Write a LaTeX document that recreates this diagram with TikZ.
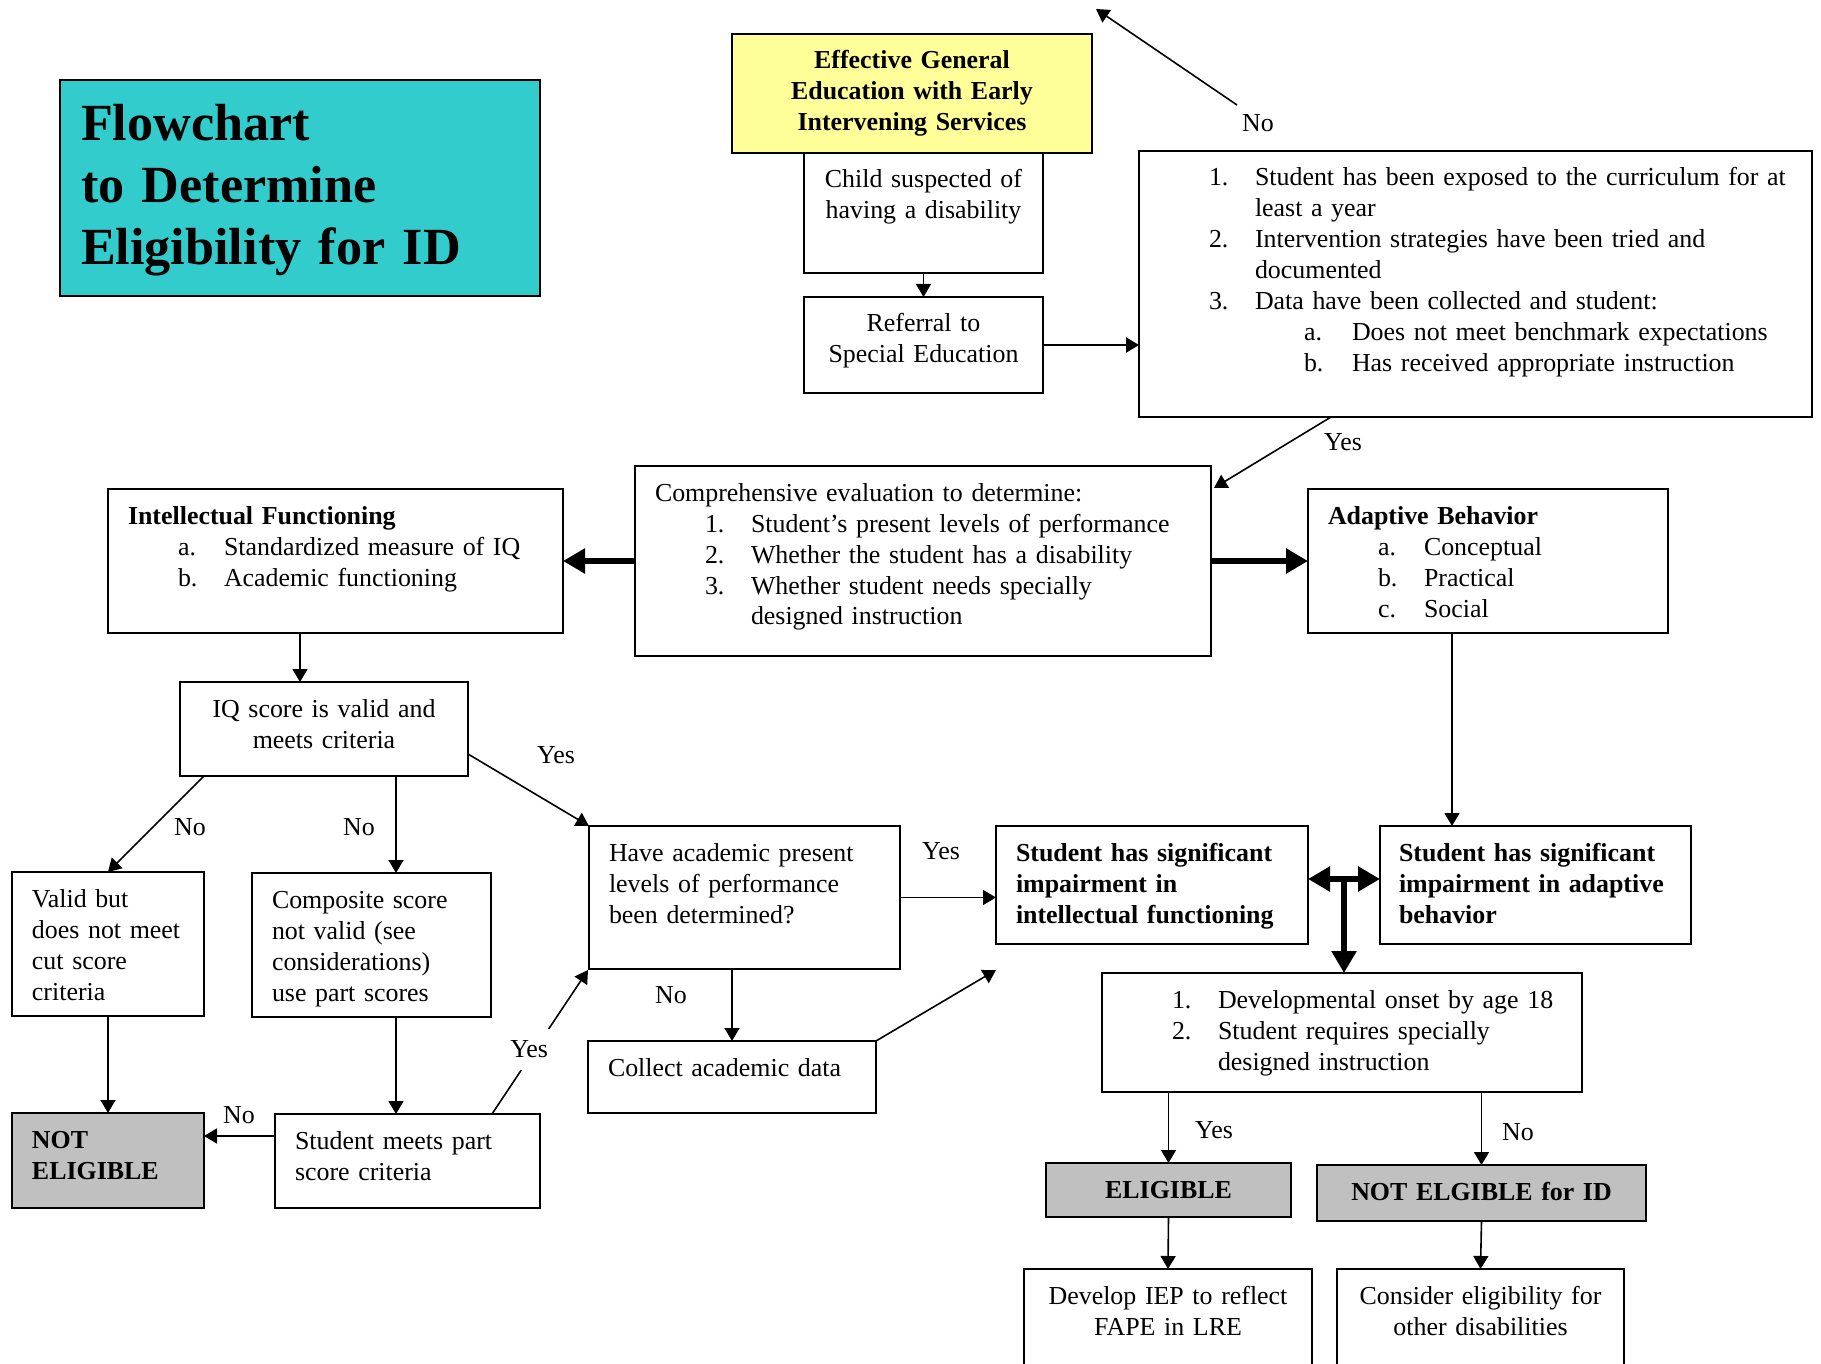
\documentclass[tikz,border=0pt]{standalone}
\usepackage{fontspec}
\setmainfont{Liberation Serif}
\usetikzlibrary{arrows.meta,positioning,calc}
\definecolor{titlecyan}{HTML}{33CCCC}
\definecolor{effyellow}{HTML}{FFFF99}
\definecolor{notegray}{HTML}{C0C0C0}
\newcommand{\body}{\fontsize{12.95}{15.5}\selectfont}
\newcommand{\titlefont}{\fontsize{26.1}{30.8}\selectfont\bfseries}
\newcommand{\itm}[2]{\hspace*{25pt}\makebox[23pt][l]{#1}\mbox{#2}}
\newcommand{\cont}[1]{\hspace*{48pt}\mbox{#1}}
\newcommand{\subitm}[2]{\hspace*{72.5pt}\makebox[24pt][l]{#1}\mbox{#2}}

\begin{document}
\begin{tikzpicture}[x=0.5pt,y=-0.5pt,
    box/.style 2 args={draw, line width=0.8pt, fill=white, anchor=north west,
      inner xsep=10pt, inner ysep=0pt, outer sep=0pt, align=left, font=\body,
      text height=17.5pt, text width=#1, text depth=#2},
    cbox/.style 2 args={box={#1}{#2}, inner xsep=4pt, align=center},
    tag/.style={font=\body, inner sep=1pt},
    arr/.style={-{Triangle[length=6.5pt,width=7.5pt]}, line width=0.8pt},
    fat/.style={-{Triangle[length=11pt,width=12pt]}, line width=3.3pt},
  ]
  \useasboundingbox (0,0) rectangle (1821,1364);
  \clip (0,0) rectangle (1821,1364);
  \fill[white] (0,0) rectangle (1821,1364);

  % title
  \node[box={219pt}{77.5pt}, fill=titlecyan, inner xsep=10.5pt, text height=30.5pt,
    font=\titlefont] (title) at (60,80) {Flowchart\\to Determine\\Eligibility for ID};

  % referral path
  \node[cbox={172pt}{42pt}, fill=effyellow, font=\body\bfseries] (eff) at (732,34)
    {Effective General\\Education with Early\\Intervening Services};
  \node[cbox={111.5pt}{42.5pt}] (child) at (804,153) {Child suspected of\\having a disability};
  \node[cbox={111.5pt}{30.5pt}] (ref) at (804,297) {Referral to\\Special Education};
  \node[box={316.5pt}{115.5pt}] (crit) at (1139,151) {%
    \itm{1.}{Student has been exposed to the curriculum for at}\\
    \cont{least a year}\\
    \itm{2.}{Intervention strategies have been tried and}\\
    \cont{documented}\\
    \itm{3.}{Data have been collected and student:}\\
    \subitm{a.}{Does not meet benchmark expectations}\\
    \subitm{b.}{Has received appropriate instruction}};

  % evaluation
  \node[box={268pt}{77.5pt}] (comp) at (635,466) {%
    Comprehensive evaluation to determine:\\
    \itm{1.}{Student’s present levels of performance}\\
    \itm{2.}{Whether the student has a disability}\\
    \itm{3.}{Whether student needs specially}\\
    \cont{designed instruction}};
  \node[box={207.5pt}{54.5pt}] (intel) at (108,489) {%
    \textbf{Intellectual Functioning}\\
    \itm{a.}{Standardized measure of IQ}\\
    \itm{b.}{Academic functioning}};
  \node[box={160pt}{54.5pt}] (adapt) at (1308,489) {%
    \textbf{Adaptive Behavior}\\
    \itm{a.}{Conceptual}\\
    \itm{b.}{Practical}\\
    \itm{c.}{Social}};

  % intellectual branch
  \node[cbox={136pt}{29.5pt}] (iq) at (180,682) {IQ score is valid and\\meets criteria};
  \node[box={76pt}{54.5pt}] (valid) at (12,872) {Valid but\\\mbox{does not meet}\\cut score\\criteria};
  \node[box={99.5pt}{54.5pt}] (compo) at (252,873) {Composite score\\not valid (see\\considerations)\\use part scores};
  \node[box={135.5pt}{54pt}] (have) at (589,826) {Have academic present\\levels of performance\\been determined?};
  \node[box={76pt}{30pt}, fill=notegray, font=\body\bfseries] (notel) at (12,1113) {NOT\\ELIGIBLE};
  \node[box={112.5pt}{29.5pt}] (meets) at (275,1114) {Student meets part\\score criteria};
  \node[box={124pt}{18.5pt}] (collect) at (588,1041) {Collect academic data};

  % decision
  \node[box={136pt}{41.5pt}, font=\body\bfseries] (sigi) at (996,826)
    {Student has significant\\impairment in\\intellectual functioning};
  \node[box={136.5pt}{41.5pt}, inner xsep=9.5pt, font=\body\bfseries] (siga) at (1380,826)
    {Student has significant\\impairment in adaptive\\behavior};
  \node[box={220pt}{42pt}] (dev) at (1102,973) {%
    \itm{1.}{Developmental onset by age 18}\\
    \itm{2.}{Student requires specially}\\
    \cont{designed instruction}};
  \node[cbox={114.5pt}{9.5pt}, fill=notegray, font=\body\bfseries] (elig) at (1046,1163) {ELIGIBLE};
  \node[cbox={156.5pt}{10.5pt}, fill=notegray, font=\body\bfseries] (noid) at (1317,1165) {NOT ELGIBLE for ID};
  \node[cbox={136pt}{62.5pt}] (iep) at (1024,1269) {Develop IEP to reflect\\FAPE in LRE};
  \node[cbox={135.5pt}{62.5pt}] (other) at (1337,1269) {Consider eligibility for\\other disabilities};

  % connectors, top part
  \coordinate (noTail) at (1237,105);
  \coordinate (noTip) at (1096,9);
  \draw[arr] (noTail) -- (noTip);
  \node[tag] (noTop) at (1258,123) {No};
  \draw[arr] (child) -- (ref);
  \draw[arr, line width=1.1pt] (ref.east) -- (ref.east -| crit.west);
  \draw[arr] ($(crit.south west)+(192,0)$) -- ($(comp.north east)+(3,22)$);
  \node[tag] (yesCrit) at (1343,442) {Yes};
  \draw[fat] (comp.west) -- (intel.east);
  \draw[fat] (comp.east) -- (adapt.west);

  % connectors, intellectual branch
  \draw[arr] ($(intel.south west)+(192,0)$) -- ($(iq.north west)+(120,0)$);
  \draw[arr] ($(iq.south west)+(24,0)$) -- (valid.north);
  \node[tag] (noValid) at (190,827) {No};
  \draw[arr] ($(iq.south west)+(216,0)$) -- ($(compo.north west)+(144,0)$);
  \node[tag] (noCompo) at (359,827) {No};
  \draw[arr] ($(iq.north east)+(0,72)$) -- (have.north west);
  \node[tag] (yesIq) at (556,755) {Yes};
  \draw[arr] (valid.south) -- (notel.north);
  \draw[arr] ($(compo.south west)+(144,0)$) -- ($(meets.north west)+(121,0)$);
  \draw[arr] ($(meets.north west)+(0,22)$) -- ($(notel.north east)+(0,23)$);
  \node[tag] (noMeets) at (239,1115) {No};
  \draw[arr] ($(meets.north west)+(217,0)$) --
    node[tag, pos=0.45, fill=white, inner sep=6pt, xshift=-3pt] (yesMeets) {Yes}
    ($(have.south west)+(-1,1)$);
  \draw[arr] (have.east) -- (have.east -| sigi.west);
  \node[tag] (yesHave) at (941,851) {Yes};
  \draw[arr] (have.south -| collect.north) -- (collect.north);
  \node[tag] (noHave) at (671,995) {No};
  \coordinate (openTip) at ($(sigi.south west)+(0,26)$);
  \draw[arr] (collect.north east) -- (openTip);

  % connectors, decision
  \draw[arr] ($(adapt.south west)+(144,0)$) -- ($(siga.north west)+(72,0)$);
  \coordinate (tee) at ($(sigi.north east)!0.5!(siga.north west)+(0,53)$);
  \draw[fat, {Triangle[length=11pt,width=12pt]}-{Triangle[length=11pt,width=12pt]}]
    (sigi.east |- tee) -- (siga.west |- tee);
  \draw[fat] (tee) -- (tee |- dev.north);
  \draw[arr] (dev.south -| elig.north) -- (elig.north);
  \node[tag] (yesDev) at (1214,1130) {Yes};
  \draw[arr] (dev.south -| noid.north) -- (noid.north);
  \node[tag] (noDev) at (1518,1132) {No};
  \draw[arr] (elig.south) -- (iep.north);
  \draw[arr] (noid.south) -- (other.north);
\end{tikzpicture}
\end{document}
